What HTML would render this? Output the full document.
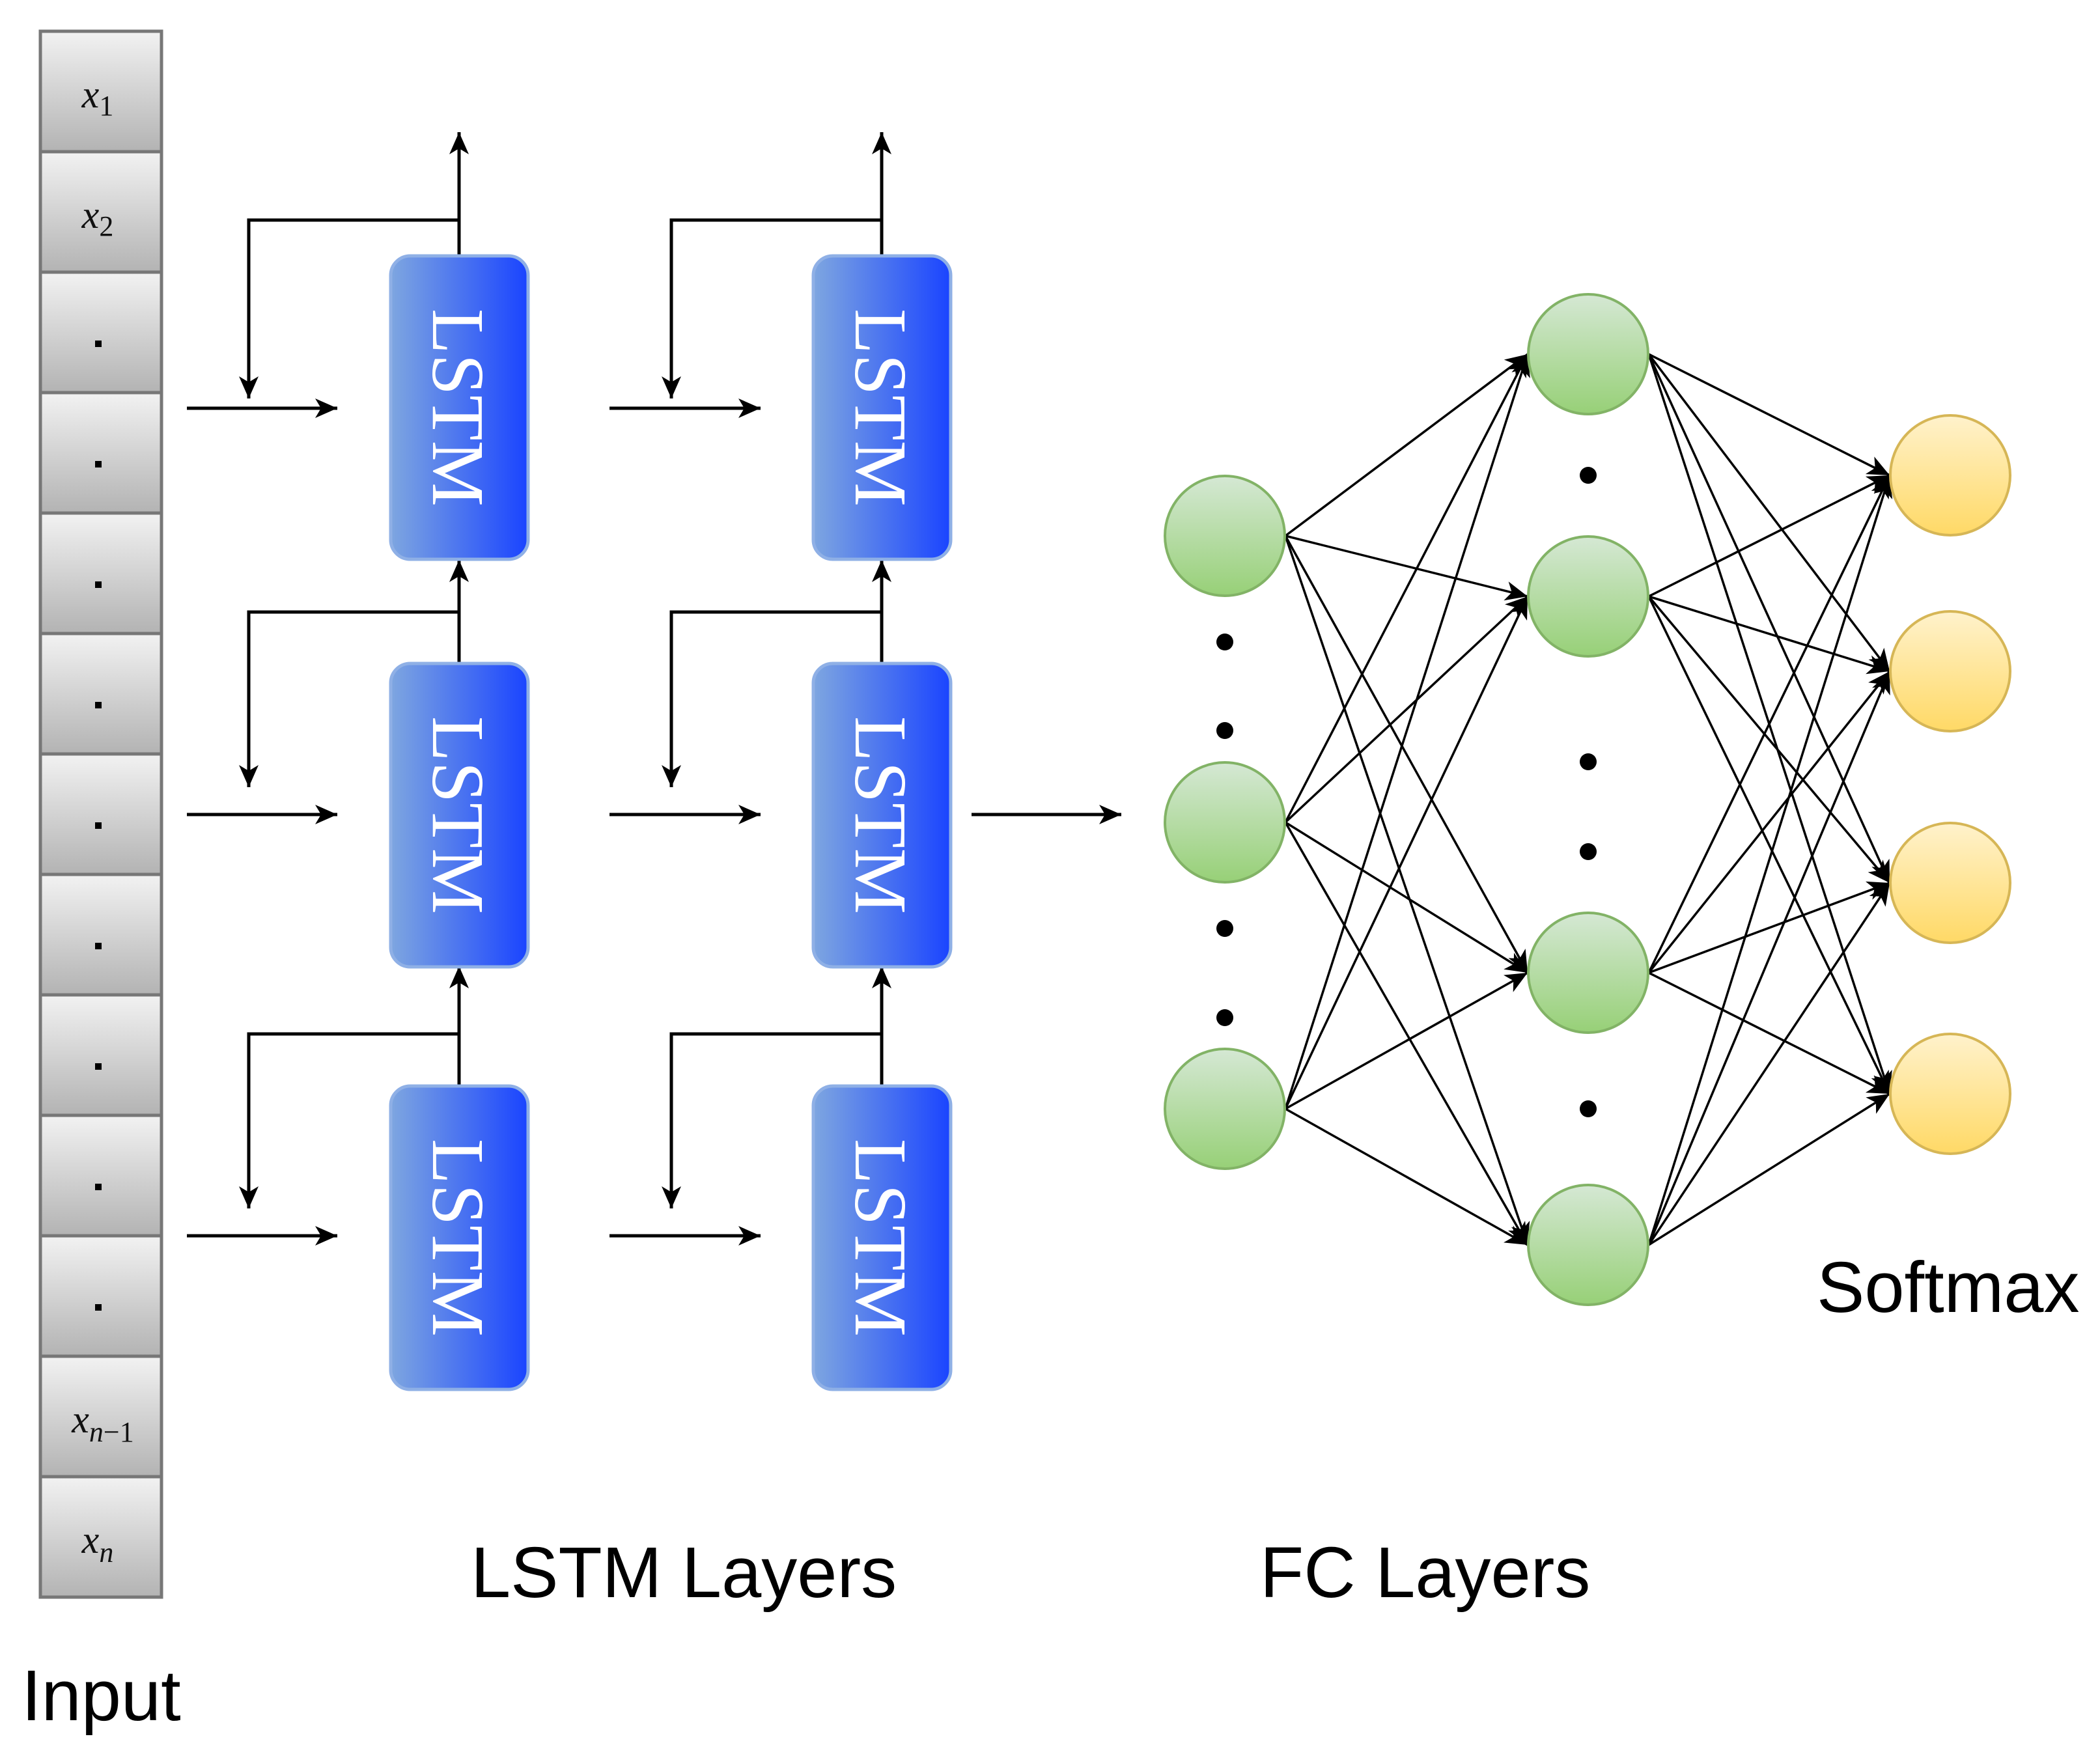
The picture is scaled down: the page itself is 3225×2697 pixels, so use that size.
<!DOCTYPE html>
<html><head><meta charset="utf-8"><style>html,body{margin:0;padding:0;background:#fff}svg{display:block}</style></head>
<body>
<svg width="3225" height="2697" viewBox="0 0 3225 2697" xmlns="http://www.w3.org/2000/svg">
<defs>
<linearGradient id="g" x1="0" y1="0" x2="0" y2="1"><stop offset="0" stop-color="#f2f2f2"/><stop offset="1" stop-color="#b3b3b3"/></linearGradient>
<linearGradient id="b" x1="0" y1="0" x2="1" y2="0"><stop offset="0" stop-color="#7ea6e0"/><stop offset="1" stop-color="#1a44ff"/></linearGradient>
<linearGradient id="gr" x1="0" y1="0" x2="0" y2="1"><stop offset="0" stop-color="#d5e8d4"/><stop offset="1" stop-color="#97d077"/></linearGradient>
<linearGradient id="ye" x1="0" y1="0" x2="0" y2="1"><stop offset="0" stop-color="#fff2cc"/><stop offset="1" stop-color="#ffd966"/></linearGradient>
<marker id="a" markerUnits="userSpaceOnUse" markerWidth="40" markerHeight="40" refX="34" refY="15" orient="auto"><path d="M0,0 L34,15 L0,30 L9,15 Z" fill="#000"/></marker>
</defs>

<!-- Input column -->
<g stroke="#777" stroke-width="5" fill="url(#g)">
<rect x="62" y="48" width="186" height="185"/><rect x="62" y="233" width="186" height="185"/>
<rect x="62" y="418" width="186" height="185"/><rect x="62" y="603" width="186" height="185"/>
<rect x="62" y="788" width="186" height="185"/><rect x="62" y="973" width="186" height="185"/>
<rect x="62" y="1158" width="186" height="185"/><rect x="62" y="1343" width="186" height="185"/>
<rect x="62" y="1528" width="186" height="185"/><rect x="62" y="1713" width="186" height="185"/>
<rect x="62" y="1898" width="186" height="185"/><rect x="62" y="2083" width="186" height="185"/>
<rect x="62" y="2268" width="186" height="185"/>
</g>
<g font-family="Liberation Serif, serif" font-style="italic" font-size="60" fill="#111" text-anchor="middle">
<text x="150" y="165">x<tspan font-style="normal" font-size="44" dy="12">1</tspan></text>
<text x="150" y="350">x<tspan font-style="normal" font-size="44" dy="12">2</tspan></text>
<text x="158" y="2200">x<tspan font-size="44" dy="14">n</tspan><tspan font-style="normal" font-size="44">−1</tspan></text>
<text x="150" y="2385">x<tspan font-size="44" dy="14">n</tspan></text>
</g>
<g fill="#000">
<rect x="146" y="523" width="10" height="10"/><rect x="146" y="708" width="10" height="10"/>
<rect x="146" y="893" width="10" height="10"/><rect x="146" y="1078" width="10" height="10"/>
<rect x="146" y="1263" width="10" height="10"/><rect x="146" y="1448" width="10" height="10"/>
<rect x="146" y="1633" width="10" height="10"/><rect x="146" y="1818" width="10" height="10"/>
<rect x="146" y="2003" width="10" height="10"/>
</g>

<!-- LSTM connectors -->
<g stroke="#000" stroke-width="5" fill="none">
<!-- col1 -->
<line x1="705" y1="392" x2="705" y2="203" marker-end="url(#a)"/>
<polyline points="705,338 382,338 382,612" marker-end="url(#a)"/>
<line x1="287" y1="627" x2="518" y2="627" marker-end="url(#a)"/>
<line x1="705" y1="1019" x2="705" y2="860" marker-end="url(#a)"/>
<polyline points="705,940 382,940 382,1209" marker-end="url(#a)"/>
<line x1="287" y1="1251" x2="518" y2="1251" marker-end="url(#a)"/>
<line x1="705" y1="1668" x2="705" y2="1484" marker-end="url(#a)"/>
<polyline points="705,1588 382,1588 382,1856" marker-end="url(#a)"/>
<line x1="287" y1="1898" x2="518" y2="1898" marker-end="url(#a)"/>
<!-- col2 -->
<line x1="1354" y1="392" x2="1354" y2="203" marker-end="url(#a)"/>
<polyline points="1354,338 1031,338 1031,612" marker-end="url(#a)"/>
<line x1="936" y1="627" x2="1168" y2="627" marker-end="url(#a)"/>
<line x1="1354" y1="1019" x2="1354" y2="860" marker-end="url(#a)"/>
<polyline points="1354,940 1031,940 1031,1209" marker-end="url(#a)"/>
<line x1="936" y1="1251" x2="1168" y2="1251" marker-end="url(#a)"/>
<line x1="1354" y1="1668" x2="1354" y2="1484" marker-end="url(#a)"/>
<polyline points="1354,1588 1031,1588 1031,1856" marker-end="url(#a)"/>
<line x1="936" y1="1898" x2="1168" y2="1898" marker-end="url(#a)"/>
<line x1="1492" y1="1251" x2="1722" y2="1251" marker-end="url(#a)"/>
</g>

<!-- LSTM boxes -->
<g fill="url(#b)" stroke="#8fb0e6" stroke-width="5">
<rect x="600" y="393" width="211" height="466" rx="30"/>
<rect x="600" y="1019" width="211" height="466" rx="30"/>
<rect x="600" y="1668" width="211" height="466" rx="30"/>
<rect x="1249" y="393" width="211" height="466" rx="30"/>
<rect x="1249" y="1019" width="211" height="466" rx="30"/>
<rect x="1249" y="1668" width="211" height="466" rx="30"/>
</g>
<g font-family="Liberation Serif, serif" font-size="114" fill="#fff" text-anchor="middle">
<text transform="translate(705,626) rotate(90)" y="40">LSTM</text>
<text transform="translate(705,1252) rotate(90)" y="40">LSTM</text>
<text transform="translate(705,1901) rotate(90)" y="40">LSTM</text>
<text transform="translate(1354,626) rotate(90)" y="40">LSTM</text>
<text transform="translate(1354,1252) rotate(90)" y="40">LSTM</text>
<text transform="translate(1354,1901) rotate(90)" y="40">LSTM</text>
</g>

<!-- FC edges -->
<g stroke="#000" stroke-width="3.5" fill="none" marker-end="url(#a)">
<line x1="1974" y1="823" x2="2346" y2="544"/><line x1="1974" y1="823" x2="2346" y2="916"/><line x1="1974" y1="823" x2="2346" y2="1494"/><line x1="1974" y1="823" x2="2346" y2="1912"/>
<line x1="1974" y1="1263" x2="2346" y2="544"/><line x1="1974" y1="1263" x2="2346" y2="916"/><line x1="1974" y1="1263" x2="2346" y2="1494"/><line x1="1974" y1="1263" x2="2346" y2="1912"/>
<line x1="1974" y1="1703" x2="2346" y2="544"/><line x1="1974" y1="1703" x2="2346" y2="916"/><line x1="1974" y1="1703" x2="2346" y2="1494"/><line x1="1974" y1="1703" x2="2346" y2="1912"/>
<line x1="2532" y1="544" x2="2902" y2="730"/><line x1="2532" y1="544" x2="2902" y2="1031"/><line x1="2532" y1="544" x2="2902" y2="1356"/><line x1="2532" y1="544" x2="2902" y2="1680"/>
<line x1="2532" y1="916" x2="2902" y2="730"/><line x1="2532" y1="916" x2="2902" y2="1031"/><line x1="2532" y1="916" x2="2902" y2="1356"/><line x1="2532" y1="916" x2="2902" y2="1680"/>
<line x1="2532" y1="1494" x2="2902" y2="730"/><line x1="2532" y1="1494" x2="2902" y2="1031"/><line x1="2532" y1="1494" x2="2902" y2="1356"/><line x1="2532" y1="1494" x2="2902" y2="1680"/>
<line x1="2532" y1="1912" x2="2902" y2="730"/><line x1="2532" y1="1912" x2="2902" y2="1031"/><line x1="2532" y1="1912" x2="2902" y2="1356"/><line x1="2532" y1="1912" x2="2902" y2="1680"/>
</g>

<!-- FC nodes -->
<g fill="url(#gr)" stroke="#82b366" stroke-width="4">
<circle cx="1881" cy="823" r="92"/><circle cx="1881" cy="1263" r="92"/><circle cx="1881" cy="1703" r="92"/>
<circle cx="2439" cy="544" r="92"/><circle cx="2439" cy="916" r="92"/><circle cx="2439" cy="1494" r="92"/><circle cx="2439" cy="1912" r="92"/>
</g>
<g fill="url(#ye)" stroke="#d6b656" stroke-width="4">
<circle cx="2995" cy="730" r="92"/><circle cx="2995" cy="1031" r="92"/><circle cx="2995" cy="1356" r="92"/><circle cx="2995" cy="1680" r="92"/>
</g>
<g fill="#000">
<circle cx="1881" cy="986" r="13"/><circle cx="1881" cy="1122" r="13"/><circle cx="1881" cy="1426" r="13"/><circle cx="1881" cy="1563" r="13"/>
<circle cx="2439" cy="730" r="13"/><circle cx="2439" cy="1170" r="13"/><circle cx="2439" cy="1308" r="13"/><circle cx="2439" cy="1703" r="13"/>
</g>

<!-- Labels -->
<g font-family="Liberation Sans, sans-serif" font-size="110" fill="#000">
<text x="2790" y="2015">Softmax</text>
<text x="723" y="2453">LSTM Layers</text>
<text x="1935" y="2453">FC Layers</text>
<text x="33" y="2642">Input</text>
</g>
</svg>
</body></html>
